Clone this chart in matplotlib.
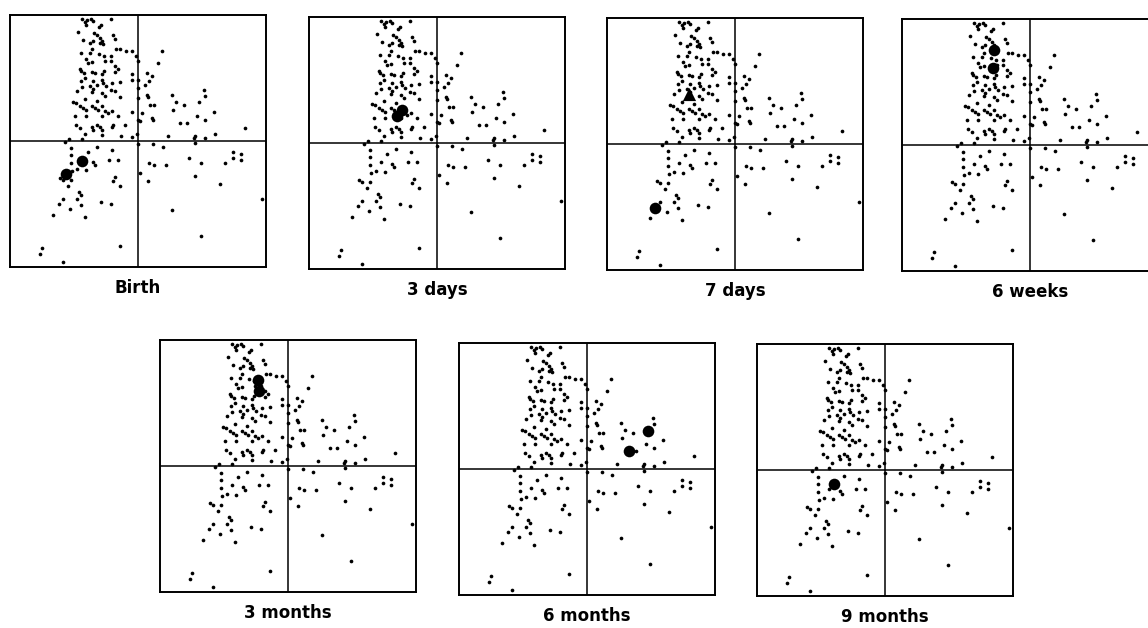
import matplotlib
matplotlib.use("Agg")
import matplotlib.pyplot as plt

# background points (same in every panel), score units, axes cross at 0
bg_x = [
    -4.37, -4.16, -3.95, -3.69, -3.50, -4.03, -2.90, -3.03, -2.10,
    -4.68, -3.42, -3.24, -2.98, -2.85, -2.72, -1.93, -1.80, -4.26, -3.76, -3.50, -2.98,
    -4.47, -3.63, -3.76, -3.06, -2.69, -2.12, -1.75, -1.41, -0.97, -0.50, -0.18,
    -4.03, -3.58, -3.90, -2.54, -2.12, -1.80, -1.54,
    -4.55, -4.42, -4.21, -3.63, -3.37, -2.85, -2.64, -1.80, -0.50, -0.50,
    -4.16, -4.42, -3.50, -3.24, -2.85, -2.72, -2.51, -2.07, -1.41,
    -4.73, -4.37, -3.76, -3.50, -3.63, -2.85, -2.59, -2.12, -1.80, -1.41,
    -4.16, -3.24, -5.07, -4.81, -4.55, -4.29, -4.03, -3.58, -3.37, -3.11, -2.85, -2.59, -2.33, -2.01, -1.54, -0.50,
    -4.94, -4.03, -2.85,
    -4.81, -4.55, -3.63, -3.50, -3.24, -2.98, -2.85, -2.07, -1.93, -1.33, -1.02, -0.50, -4.16, -2.80, -0.10,
    -5.73, -5.41, -4.37,
    0.0, 0.0, 0.0, 0.0, 0.0, 0.16, 0.34, 1.86, 1.54, 0.68, 1.07, 0.55, 0.86, 0.68, 0.81, 0.94, 1.28,
    1.07, 1.20, 2.64, 2.95, 3.63, 2.77, 3.29, 3.82, 4.60, 4.73, 5.12, 5.25, 5.25, 5.91, 6.04, 8.39,
    2.33, 4.34, 4.47, 5.25,
    -5.25, -3.90, -3.24, -2.07, -5.20, -3.50, -3.37, -2.27, -1.59, -5.20, -4.73, -4.03, -5.15,
    -6.12, -5.86, -5.20, -5.46, -1.80, -1.93, -1.41, -4.63, -4.47, -5.86, -6.20, -4.73, -4.42,
    -5.33, -2.90, -2.12, -6.64, -4.16, -7.50, -7.63, -1.41, -5.86, -4.40,
    0.0, 1.20, 1.99, 4.42, 3.95, 4.94, 0.86, 1.23, 2.17, 6.77, 7.40, 7.40, 8.03, 8.03,
    0.16, 0.81, 4.42, 6.38, 9.70, 2.64, 4.94,
]
bg_y = [
    9.68, 9.47, 9.60, 9.68, 9.55, 9.20, 9.20, 9.01, 9.65,
    8.67, 8.56, 8.40, 8.21, 7.95, 7.68, 8.40, 8.08, 8.03, 7.81, 7.95, 7.81,
    7.01, 7.33, 7.01, 6.88, 6.75, 6.75, 7.33, 7.33, 7.15, 7.15, 6.75,
    6.48, 6.27, 6.21, 6.35, 6.35, 5.95, 5.68,
    5.73, 5.55, 5.36, 5.47, 5.41, 5.28, 5.55, 5.47, 5.28, 4.88,
    5.01, 4.75, 4.75, 4.48, 4.88, 4.61, 4.35, 4.61, 4.67,
    3.95, 4.29, 4.35, 4.13, 3.87, 3.81, 3.60, 4.08, 3.95, 3.49,
    3.33, 3.15, 3.07, 3.01, 2.75, 2.61, 2.48, 2.75, 2.61, 2.48, 2.75, 2.35, 2.21, 2.35, 2.00, 2.27,
    2.00, 2.00, 1.95,
    1.28, 1.01, 1.15, 0.88, 1.28, 1.15, 0.88, 1.15, 1.28, 0.40, 1.28, 0.35, 0.56, 0.50, 0.55,
    -0.11, 0.16, 0.16,
    6.35, 4.88, 4.21, 3.41, 1.68, 1.55, 2.21, 7.15, 6.16, 5.36, 5.15, 4.48, 4.75, 3.68, 3.49, 2.88, 2.85,
    1.81, 1.68, 3.68, 3.07, 2.88, 2.48, 1.41, 1.41, 2.00, 3.07, 4.08, 3.60, 1.63, 2.27, 0.56, 1.01,
    0.40, 0.21, 0.40, 0.21,
    -0.53, -0.91, -0.45, -0.72, -1.12, -1.65, -1.92, -1.52, -1.52, -1.71, -2.24, -2.32, -2.40,
    -2.93, -3.12, -3.12, -3.57, -2.85, -3.20, -3.57, -4.05, -4.27, -4.59, -4.99, -4.59, -5.07,
    -5.39, -4.85, -5.01, -5.84, -6.05, -8.53, -8.99, -8.32, -9.60, -1.50,
    -0.20, -0.27, -0.48, -0.19, -1.33, -1.71, -1.71, -1.92, -1.92, -1.71, -0.91, -1.31, -1.07, -1.52,
    -2.51, -3.15, -2.77, -3.39, -4.64, -5.44, -7.52,
]

panel_labels = ["Birth", "3 days", "7 days", "6 weeks", "3 months", "6 months", "9 months"]

# highlighted (large) points for each age
hl_x = [[-5.59, -4.37], [-3.10, -2.75], [-3.63, -6.23], [-2.78, -2.90],
        [-2.33, -2.23], [4.80, 3.32], [-3.95]]
hl_y = [[-2.59, -1.60], [2.15, 2.60], [4.00, -5.05], [7.51, 6.08],
        [6.85, 5.92], [3.00, 1.39], [-1.12]]
hl_marker = [["o", "o"], ["o", "o"], ["^", "o"], ["o", "o"],
             ["o", "o"], ["o", "o"], ["o"]]

W, H = 1148, 628
# panel centres in pixels (layout)
centres = [(138, 141), (437, 143), (735, 144), (1030, 145),
           (288, 466), (587, 469), (885, 470)]
half_w, half_h = 128, 126

fig = plt.figure(figsize=(W / 100, H / 100), dpi=100)
fig.patch.set_facecolor("white")

for i, (cx, cy) in enumerate(centres):
    ax = fig.add_axes([(cx - half_w) / W, 1 - (cy + half_h) / H,
                       2 * half_w / W, 2 * half_h / H])
    ax.set_xlim(-10, 10)
    ax.set_ylim(-10, 10)
    ax.axhline(0, color="black", lw=1.1)
    ax.axvline(0, color="black", lw=1.1)
    ax.scatter(bg_x, bg_y, s=7, color="black", linewidths=0)
    for x, y, m in zip(hl_x[i], hl_y[i], hl_marker[i]):
        ax.scatter([x], [y], s=70 if m == "o" else 90, marker=m,
                   color="black", linewidths=0, zorder=3)
    ax.set_xticks([])
    ax.set_yticks([])
    for sp in ax.spines.values():
        sp.set_linewidth(1.4)
    fig.text(cx / W, 1 - (cy + half_h + 21) / H, panel_labels[i],
             ha="center", va="center", fontsize=12, fontweight="bold")

fig.savefig("out.png", dpi=100, facecolor="white")
